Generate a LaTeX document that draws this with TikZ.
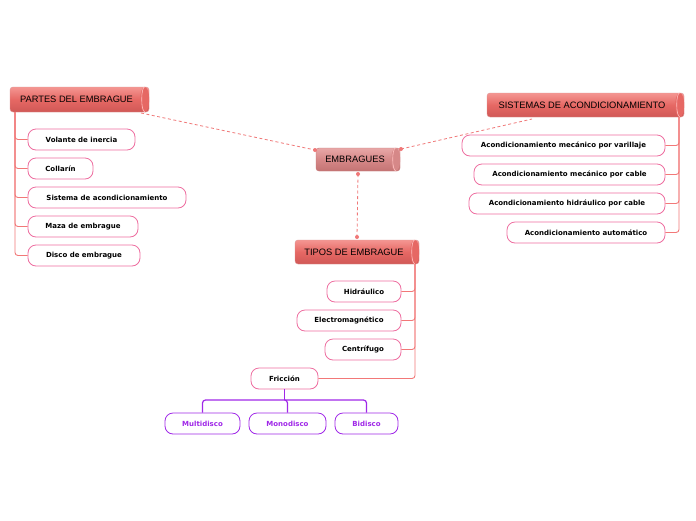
\documentclass[tikz,border=0pt]{standalone}
\usepackage{fontspec}
\setmainfont{Liberation Sans}
\newfontfamily\boxfont{DejaVu Sans}
\usetikzlibrary{calc}
\definecolor{cylA}{RGB}{244,150,146}
\definecolor{cylB}{RGB}{230,104,100}
\definecolor{cylC}{RGB}{208,88,86}
\definecolor{cylEdge}{RGB}{200,80,80}
\definecolor{mutA}{RGB}{232,168,168}
\definecolor{mutB}{RGB}{214,136,136}
\definecolor{mutC}{RGB}{196,116,116}
\definecolor{treeline}{RGB}{242,120,120}
\definecolor{branch}{RGB}{246,160,160}
\definecolor{boxpink}{RGB}{238,110,160}
\definecolor{purp}{RGB}{160,40,232}
\definecolor{dashc}{RGB}{240,120,120}
\tikzset{
  cyl/.style={rectangle, rounded corners=3pt, inner sep=0pt, draw=cylEdge!60, line width=0.4pt,
    top color=cylA, bottom color=cylC, middle color=cylB, text=black},
  cylm/.style={cyl, top color=mutA, bottom color=mutC, middle color=mutB, draw=mutC},
  cyltext/.style={font=\fontsize{9.3}{11}\selectfont, text=black, inner sep=0pt},
  subbox/.style={rectangle, rounded corners=8pt, draw=boxpink, line width=0.8pt, fill=white,
    inner sep=0pt, minimum height=21pt, font=\boxfont\bfseries\fontsize{7}{8}\selectfont, text=black},
  purpbox/.style={subbox, draw=purp, text=purp},
  tree/.style={draw=treeline, line width=0.9pt, rounded corners=3pt},
  purpline/.style={draw=purp, line width=1.2pt, rounded corners=3pt},
  dashline/.style={draw=dashc, line width=0.8pt, dash pattern=on 3pt off 2.5pt},
  enddot/.style={circle, fill=dashc, inner sep=0pt, minimum size=4pt}
}
\newcommand{\capend}[3]{% node, half height, color
  \fill[#3] ($(#1.east)+(-4.5,0)$) ellipse [x radius=4.5pt, y radius=#2pt];
  \draw[white!75!red, line width=0.6pt] ($(#1.north east)+(-4.5,0)$) arc[start angle=90, end angle=270, x radius=3pt, y radius=#2pt];
}
\begin{document}
\begin{tikzpicture}[x=1pt,y=-1pt]
\useasboundingbox (0,0) rectangle (696,520);
\fill[white] (0,0) rectangle (696,520);

% dashed connectors (under nodes)
\coordinate (pd) at (141,113);
\coordinate (el) at (315,150);
\coordinate (er) at (401,149);
\coordinate (sd) at (532,119);
\coordinate (eb) at (358,174);
\coordinate (tt) at (357,237);
\draw[dashline] (pd) -- (el);
\draw[dashline] (er) -- (sd);
\draw[dashline] (eb) -- (tt);

% main cylinders
\node[cyl, minimum width=139pt, minimum height=25pt] (partes) at (79.5,99.5) {};
\capend{partes}{12.5}{cylB}
\node[cyltext] (partesT) at (76.5,99.5) {PARTES DEL EMBRAGUE};

\node[cylm, minimum width=84pt, minimum height=23pt] (embr) at (358,159.5) {};
\capend{embr}{11.5}{mutB}
\node[cyltext] (embrT) at (355,159.5) {EMBRAGUES};

\node[cyl, minimum width=197pt, minimum height=24pt] (sist) at (585.5,105) {};
\capend{sist}{12}{cylB}
\node[cyltext] (sistT) at (582,105) {SISTEMAS DE ACONDICIONAMIENTO};

\node[cyl, minimum width=124pt, minimum height=24pt] (tipos) at (357,252) {};
\capend{tipos}{12}{cylB}
\node[cyltext] (tiposT) at (354,252) {TIPOS DE EMBRAGUE};

\node[enddot] at (el) {};
\node[enddot] at (er) {};
\node[enddot] at (eb) {};
\node[enddot] at (tt) {};

% left subnodes
\coordinate (lt) at (15,112);
\node[subbox, minimum width=107pt] (volante) at (81.5,139.5) {Volante de inercia};
\node[subbox, minimum width=65pt] (collarin) at (60.5,168.5) {Collarín};
\node[subbox, minimum width=158pt] (sistema) at (107,197.5) {Sistema de acondicionamiento};
\node[subbox, minimum width=110pt] (maza) at (83,226.5) {Maza de embrague};
\node[subbox, minimum width=112pt] (disco) at (84,255.5) {Disco de embrague};
\foreach \n in {volante,collarin,sistema,maza,disco}{
  \draw[tree] (lt) |- (\n.west);
}

% right subnodes
\coordinate (rt) at (679,117);
\node[subbox, minimum width=203pt] (varillaje) at (563.5,145.5) {Acondicionamiento mecánico por varillaje};
\node[subbox, minimum width=191pt] (cable) at (569.5,174.5) {Acondicionamiento mecánico por cable};
\node[subbox, minimum width=196pt] (hidr) at (567,203.5) {Acondicionamiento hidráulico por cable};
\node[subbox, minimum width=158pt] (auto) at (586,232.5) {Acondicionamiento automático};
\foreach \n in {varillaje,cable,hidr,auto}{
  \draw[tree] (rt) |- (\n.east);
}

% tipos subnodes
\coordinate (tr) at (415,264);
\node[subbox, minimum width=74pt] (hidraulico) at (364,291.5) {Hidráulico};
\node[subbox, minimum width=104pt] (electro) at (349,320.5) {Electromagnético};
\node[subbox, minimum width=76pt] (centri) at (363,349.5) {Centrífugo};
\node[subbox, minimum width=67pt] (friccion) at (284.5,378.5) {Fricción};
\foreach \n in {hidraulico,electro,centri,friccion}{
  \draw[tree] (tr) |- (\n.east);
}

% friccion children
\node[purpbox, minimum width=75pt] (multi) at (202.5,423.5) {Multidisco};
\node[purpbox, minimum width=77pt] (mono) at (287.5,423.5) {Monodisco};
\node[purpbox, minimum width=63pt] (bi) at (366.5,423.5) {Bidisco};
\coordinate (fj) at (284.5,400);
\draw[purpline] (friccion.south) -- (fj);
\foreach \n in {multi,mono,bi}{
  \draw[purpline] (fj) -| (\n.north);
}
\end{tikzpicture}
\end{document}
